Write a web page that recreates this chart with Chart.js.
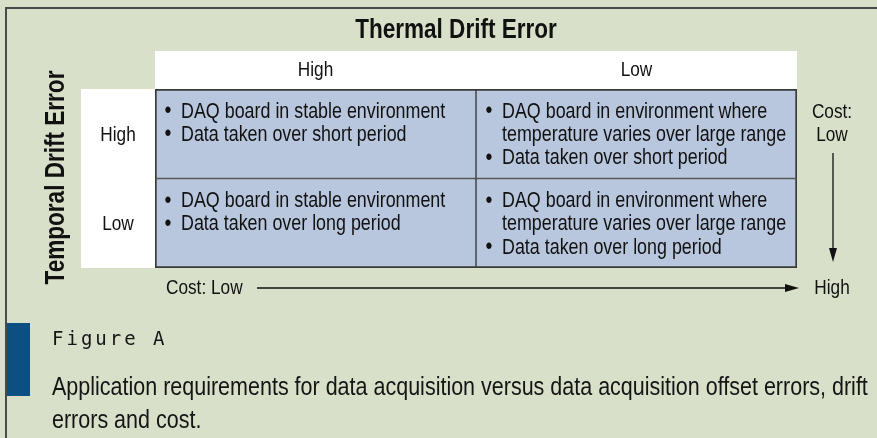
<!DOCTYPE html>
<html>
<head>
<meta charset="utf-8">
<title>Thermal vs Temporal Drift Error</title>
<script src="https://cdn.jsdelivr.net/npm/chart.js@4.4.0/dist/chart.umd.min.js"></script>
<style>
  body { margin: 0; width: 877px; height: 438px; overflow: hidden; position: relative;
         background: #d9e0c9; font-family: "Liberation Sans", Arial, sans-serif; color: #151515; }
  #frame { position: absolute; left: 5px; top: 7px; right: 0; bottom: 0;
           border-left: 2px solid #4a4a4a; border-top: 2px solid #4a4a4a; }
  #chart { position: absolute; left: 0; top: 0; }
  #bar { position: absolute; left: 7px; top: 323px; width: 23px; height: 73px; background: #0c5082; }
  #fig { position: absolute; left: 52px; top: 327px; font: 19px "DejaVu Sans Mono", monospace; letter-spacing: 3px; }
  #cap { position: absolute; left: 52px; top: 370px; font-size: 25px; line-height: 33px; white-space: nowrap;
         transform: scaleX(0.86); transform-origin: 0 0; }
</style>
</head>
<body>
<div id="frame"></div>
<canvas id="chart" width="877" height="438"></canvas>
<div id="bar"></div>
<div id="fig">Figure A</div>
<div id="cap">Application requirements for data acquisition versus data acquisition offset errors, drift<br>errors and cost.</div>

<script>
// Matrix: thermal drift error (columns) vs temporal drift error (rows)
const thermalLevels = ['High', 'Low'];
const temporalLevels = ['High', 'Low'];

// each column covers one unit of the thermal axis, for both rows
const thermalHighSpan = [[0, 1], [0, 1]];
const thermalLowSpan = [[1, 2], [1, 2]];

// bullet notes per column, indexed by temporal row; each bullet may wrap over lines
const notesThermalHigh = [
  [['DAQ board in stable environment'], ['Data taken over short period']],
  [['DAQ board in stable environment'], ['Data taken over long period']]
];
const notesThermalLow = [
  [['DAQ board in environment where', 'temperature varies over large range'], ['Data taken over short period']],
  [['DAQ board in environment where', 'temperature varies over large range'], ['Data taken over long period']]
];

const mainTitle = 'Thermal Drift Error';
const sideTitle = 'Temporal Drift Error';
const costAcross = ['Cost: Low', 'High'];
const costDown = ['Cost:', 'Low'];

const FONT = '"Liberation Sans", Arial, sans-serif';
const NARROW = 0.82;   // no condensed face installed, so squeeze the text
const ink = '#111111';
const cellBlue = '#b8c7dd';
const lineColor = '#3a3a3a';

function narrowText(ctx, text, x, y, align, font, rotate) {
  ctx.save();
  ctx.translate(x, y);
  if (rotate) ctx.rotate(rotate);
  ctx.scale(NARROW, 1);
  ctx.font = font;
  ctx.textAlign = align;
  ctx.textBaseline = 'middle';
  ctx.fillStyle = ink;
  ctx.fillText(text, 0, 0);
  ctx.restore();
}

// white header bands behind the tick labels
const headerBands = {
  id: 'headerBands',
  beforeDraw(chart) {
    const { ctx, chartArea: a } = chart;
    ctx.save();
    ctx.fillStyle = '#ffffff';
    ctx.fillRect(a.left, a.top - 38, a.right - a.left, 38);
    ctx.fillRect(a.left - 74, a.top, 74, a.bottom - a.top);
    ctx.restore();
  }
};

// tick labels and the side title, placed from the scales
const axisText = {
  id: 'axisText',
  afterDraw(chart) {
    const { ctx, chartArea: a, scales: { x, y } } = chart;
    const tickFont = '21px ' + FONT;
    x.ticks.forEach(t => {
      narrowText(ctx, thermalLevels[Math.floor(t.value)], x.getPixelForValue(t.value), a.top - 19, 'center', tickFont);
    });
    y.ticks.forEach((t, i) => {
      narrowText(ctx, y.getLabelForValue(t.value), a.left - 37, y.getPixelForTick(i) + 1, 'center', tickFont);
    });
    narrowText(ctx, sideTitle, y.left + 26, (y.top + y.bottom) / 2 - 1, 'center', 'bold 27.5px ' + FONT, -Math.PI / 2);
  }
};

// bullet text inside each cell
const cellNotes = {
  id: 'cellNotes',
  afterDatasetsDraw(chart) {
    const ctx = chart.ctx;
    const font = '21.8px ' + FONT;
    const notesByColumn = [notesThermalHigh, notesThermalLow];
    chart.data.datasets.forEach((ds, i) => {
      chart.getDatasetMeta(i).data.forEach((bar, j) => {
        const p = bar.getProps(['x', 'y', 'base', 'height'], true);
        const left = Math.min(p.x, p.base);
        let yy = p.y - p.height / 2 + 22.5;
        notesByColumn[i][j].forEach(item => {
          narrowText(ctx, '\u2022', left + 13, yy, 'center', '24px ' + FONT);
          item.forEach(line => {
            narrowText(ctx, line, left + 26, yy, 'left', font);
            yy += 23.3;
          });
        });
      });
    });
  }
};

// top title and the two cost arrows
const extras = {
  id: 'extras',
  afterDraw(chart) {
    const { ctx, chartArea: a } = chart;
    const font = '21px ' + FONT;
    narrowText(ctx, mainTitle, (a.left + a.right) / 2 - 20, 30, 'center', 'bold 27.5px ' + FONT);

    ctx.save();
    ctx.fillStyle = ink;
    ctx.strokeStyle = ink;
    ctx.lineWidth = 1.3;

    // horizontal cost arrow
    const yA = a.bottom + 20;
    narrowText(ctx, costAcross[0], a.left + 11, yA, 'left', font);
    narrowText(ctx, costAcross[1], a.right + 35, yA, 'center', font);
    ctx.beginPath();
    ctx.moveTo(a.left + 102, yA);
    ctx.lineTo(a.right - 8, yA);
    ctx.stroke();
    ctx.beginPath();
    ctx.moveTo(a.right + 2, yA);
    ctx.lineTo(a.right - 12, yA - 4);
    ctx.lineTo(a.right - 12, yA + 4);
    ctx.closePath();
    ctx.fill();

    // vertical cost arrow
    const xA = a.right + 36;
    narrowText(ctx, costDown[0], xA - 1, a.top + 23, 'center', font);
    narrowText(ctx, costDown[1], xA - 1, a.top + 46, 'center', font);
    ctx.beginPath();
    ctx.moveTo(xA, a.top + 64);
    ctx.lineTo(xA, a.bottom - 12);
    ctx.stroke();
    ctx.beginPath();
    ctx.moveTo(xA, a.bottom - 6);
    ctx.lineTo(xA - 4, a.bottom - 20);
    ctx.lineTo(xA + 4, a.bottom - 20);
    ctx.closePath();
    ctx.fill();
    ctx.restore();
  }
};

// thicker outer edge so inner and outer lines look alike
function cellBorder(c) {
  const row = c.dataIndex, col = c.datasetIndex;
  return { top: row === 0 ? 2 : 1, bottom: row === 1 ? 2 : 1, left: col === 0 ? 2 : 1, right: col === 1 ? 2 : 1 };
}

new Chart(document.getElementById('chart').getContext('2d'), {
  type: 'bar',
  data: {
    labels: temporalLevels,
    datasets: [
      { label: thermalLevels[0], data: thermalHighSpan, backgroundColor: cellBlue, borderColor: lineColor, borderWidth: cellBorder, borderSkipped: false },
      { label: thermalLevels[1], data: thermalLowSpan, backgroundColor: cellBlue, borderColor: lineColor, borderWidth: cellBorder, borderSkipped: false }
    ]
  },
  options: {
    indexAxis: 'y',
    responsive: false,
    animation: false,
    layout: { padding: { left: 30, top: 40, right: 80, bottom: 170 } },
    datasets: { bar: { grouped: false, barPercentage: 1, categoryPercentage: 1 } },
    plugins: { legend: { display: false }, tooltip: { enabled: false } },
    scales: {
      x: {
        type: 'linear',
        position: 'top',
        min: 0,
        max: 2,
        grid: { display: false },
        border: { display: false },
        afterBuildTicks: s => { s.ticks = [{ value: 0.5 }, { value: 1.5 }]; },
        afterFit: s => { s.height = 49; },
        ticks: { display: false }
      },
      y: {
        type: 'category',
        position: 'left',
        grid: { display: false },
        border: { display: false },
        afterFit: s => { s.width = 125; },
        ticks: { display: false }
      }
    }
  },
  plugins: [headerBands, cellNotes, axisText, extras]
});
</script>
</body>
</html>
